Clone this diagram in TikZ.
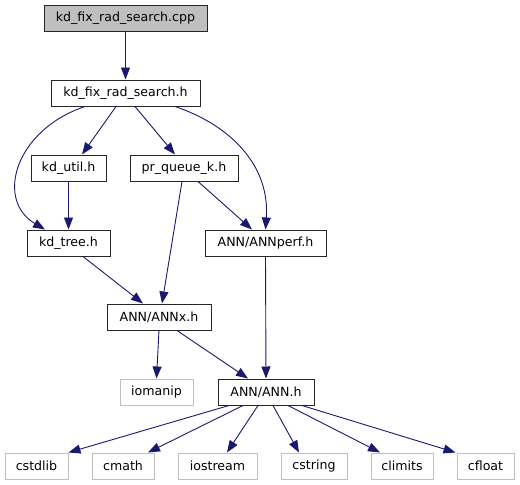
\documentclass[tikz,border=0pt]{standalone}
\usepackage{fontspec}
\setmainfont{DejaVu Sans}
\usetikzlibrary{arrows.meta}
\definecolor{edgeblue}{HTML}{191970}
\definecolor{grey75}{HTML}{BFBFBF}
\begin{document}
\begin{tikzpicture}[x=1pt,y=-1pt,
  box/.style={draw=black!85, line width=1pt, fill=white, inner sep=0pt, minimum height=26pt, font=\fontsize{12.6}{15}\selectfont, text=black},
  sysbox/.style={box, draw=grey75},
  edge/.style={draw=edgeblue, line width=0.9pt, -{Triangle[length=12pt,width=9pt]}}]
\useasboundingbox (0,0) rectangle (520,485);
\node[box, fill=grey75, minimum width=163pt] (cpp) at (125.5,18) {kd\_fix\_rad\_search.cpp};
\node[box, minimum width=149pt] (h) at (125.5,93) {kd\_fix\_rad\_search.h};
\node[box, minimum width=75pt] (kdutil) at (68.5,168) {kd\_util.h};
\node[box, minimum width=108pt] (prq) at (184,168) {pr\_queue\_k.h};
\node[box, minimum width=83pt] (kdtree) at (68.5,243) {kd\_tree.h};
\node[box, minimum width=121pt] (annperf) at (265.5,243) {ANN/ANNperf.h};
\node[box, minimum width=104pt] (annx) at (159,317) {ANN/ANNx.h};
\node[sysbox, minimum width=73pt] (iomanip) at (156.5,392) {iomanip};
\node[box, minimum width=96pt] (ann) at (266,392) {ANN/ANN.h};
\node[sysbox, minimum width=63pt] (cstdlib) at (36.5,466) {cstdlib};
\node[sysbox, minimum width=62pt] (cmath) at (123,466) {cmath};
\node[sysbox, minimum width=79pt] (iostream) at (217.5,466) {iostream};
\node[sysbox, minimum width=66pt] (cstring) at (314,466) {cstring};
\node[sysbox, minimum width=62pt] (climits) at (402,466) {climits};
\node[sysbox, minimum width=57pt] (cfloat) at (485.5,466) {cfloat};

\draw[edge] (cpp.south) -- (h.north);
\draw[edge] ([xshift=-9.5pt]h.south) -- ([xshift=13.5pt]kdutil.north);
\draw[edge] ([xshift=9.5pt]h.south) -- ([xshift=-9pt]prq.north);
\draw[edge] ([xshift=-40.5pt]h.south) .. controls (15,130) and (-5,200) .. ([xshift=-23.5pt]kdtree.north);
\draw[edge] ([xshift=49.5pt]h.south) .. controls (230,125) and (270,165) .. (annperf.north);
\draw[edge] (kdutil.south) -- (kdtree.north);
\draw[edge] ([xshift=-2pt]prq.south) -- ([xshift=3pt]annx.north);
\draw[edge] ([xshift=14pt]prq.south) -- ([xshift=-13.5pt]annperf.north);
\draw[edge] ([xshift=14.5pt]kdtree.south) -- ([xshift=-16pt]annx.north);
\draw[edge] (annperf.south) -- (ann.north);
\draw[edge] (annx.south) -- (iomanip.north);
\draw[edge] ([xshift=18pt]annx.south) -- ([xshift=-18pt]ann.north);
\draw[edge] ([xshift=-37pt]ann.south) -- ([xshift=32pt]cstdlib.north);
\draw[edge] ([xshift=-23pt]ann.south) -- ([xshift=25pt]cmath.north);
\draw[edge] ([xshift=-8pt]ann.south) -- ([xshift=9.5pt]iostream.north);
\draw[edge] ([xshift=7pt]ann.south) -- ([xshift=-15pt]cstring.north);
\draw[edge] ([xshift=22pt]ann.south) -- ([xshift=-22pt]climits.north);
\draw[edge] ([xshift=36pt]ann.south) -- ([xshift=-30pt]cfloat.north);
\end{tikzpicture}
\end{document}
